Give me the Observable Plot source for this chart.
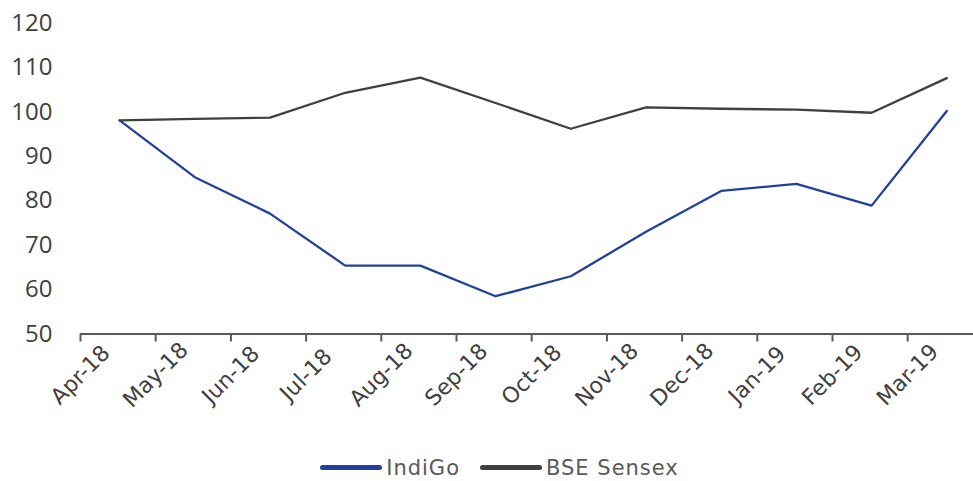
<!DOCTYPE html>
<html>
<head>
<meta charset="utf-8">
<script src="https://cdn.jsdelivr.net/npm/d3@7"></script>
<script src="https://cdn.jsdelivr.net/npm/@observablehq/plot@0.6"></script>
<style>
  html, body { margin: 0; padding: 0; background: #fff; }
  #chart { width: 973px; height: 440px; }
  #legend { width: 973px; height: 41px; display: flex; justify-content: center; align-items: center; box-sizing: border-box; padding-top: 14px; padding-left: 26px;
    font-family: "DejaVu Sans", sans-serif; font-size: 21px; color: #595959; letter-spacing: 1px; }
  .item { display: flex; align-items: center; margin: 0 10px; }
  .swatch { width: 62px; height: 5px; border-radius: 3px; margin-right: 4px; }
</style>
</head>
<body>
<div id="chart"></div>
<div id="legend"></div>
<script>
const months = ["Apr-18","May-18","Jun-18","Jul-18","Aug-18","Sep-18","Oct-18","Nov-18","Dec-18","Jan-19","Feb-19","Mar-19"];
const indigo = [98.1, 85.3, 77.1, 65.4, 65.4, 58.5, 63.0, 73.0, 82.2, 83.8, 78.9, 100.2];
const sensex = [98.1, 98.4, 98.7, 104.3, 107.7, 102.0, 96.2, 101.0, 100.7, 100.5, 99.8, 107.6];
const yTicks = [50, 60, 70, 80, 90, 100, 110, 120];
const seriesNames = ["IndiGo", "BSE Sensex"];
const seriesColors = ["#22409c", "#404040"];

const rows = [];
months.forEach((m, i) => {
  rows.push({series: seriesNames[0], i: i + 0.52, v: indigo[i]});
  rows.push({series: seriesNames[1], i: i + 0.52, v: sensex[i]});
});
const tickIdx = months.map((m, i) => i);
const labelRows = months.map((m, i) => ({i, m}));

const chart = Plot.plot({
  width: 973,
  height: 440,
  marginLeft: 80,
  marginRight: 0,
  marginTop: 22.5,
  marginBottom: 106.5,
  style: {fontFamily: "'Open Sans', sans-serif", fontSize: "24px", color: "#404040", background: "#fff"},
  x: {type: "linear", domain: [0, 11.875], axis: null},
  y: {domain: [50, 120], axis: null},
  color: {domain: seriesNames, range: seriesColors},
  marks: [
    Plot.axisY({ticks: yTicks, tickSize: 0, tickPadding: 28, fontSize: 24, fill: "#404040", label: null}),
    Plot.ruleY([50], {stroke: "#595959", strokeWidth: 2}),
    Plot.axisX({ticks: tickIdx, tickSize: 8, tickFormat: () => "", stroke: "#595959", strokeWidth: 2, label: null}),
    Plot.text(labelRows, {x: "i", text: "m", frameAnchor: "bottom", dy: 41, rotate: -45, textAnchor: "middle", lineAnchor: "middle",
      fontFamily: "DejaVu Sans, sans-serif", fontSize: 22, fill: "#404040"}),
    Plot.line(rows, {x: "i", y: "v", z: "series", stroke: "series", strokeWidth: 2.3})
  ]
});
document.getElementById("chart").appendChild(chart);

const legend = document.getElementById("legend");
seriesNames.forEach((n, k) => {
  const it = document.createElement("div");
  it.className = "item";
  const sw = document.createElement("div");
  sw.className = "swatch";
  sw.style.background = seriesColors[k];
  const t = document.createElement("span");
  t.textContent = n;
  it.appendChild(sw); it.appendChild(t);
  legend.appendChild(it);
});
</script>
</body>
</html>
